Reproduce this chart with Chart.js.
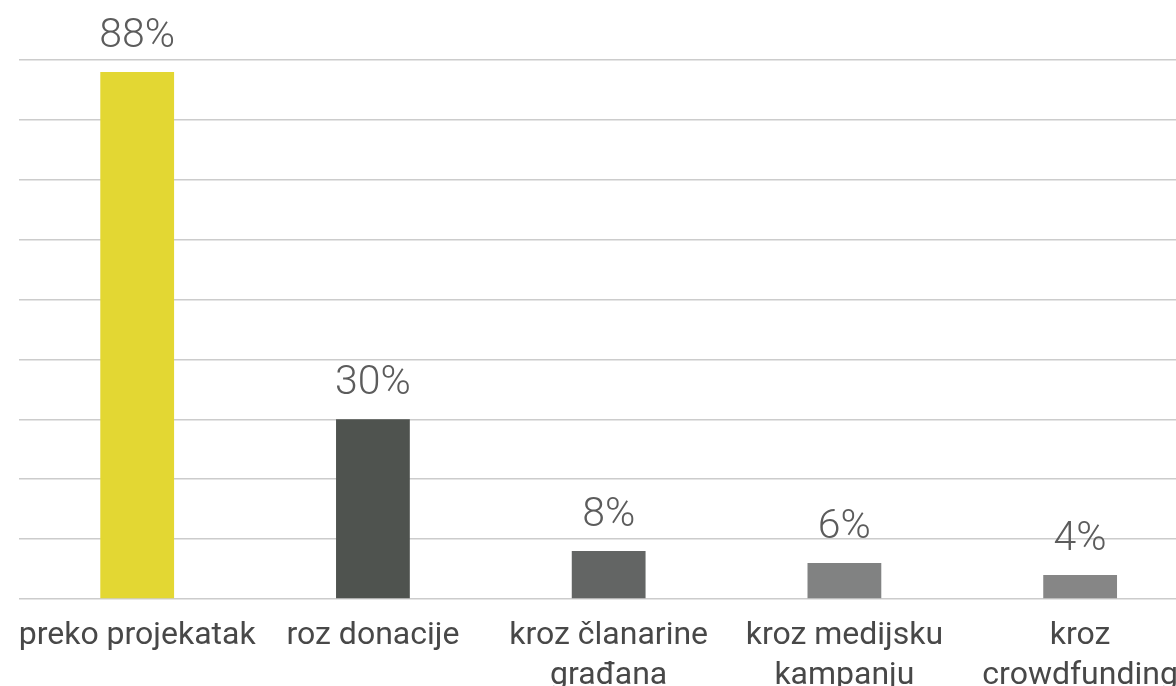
<!DOCTYPE html>
<html>
<head>
<meta charset="utf-8">
<script src="https://cdn.jsdelivr.net/npm/chart.js@4"></script>
<style>
    html, body { margin: 0; padding: 0; background: #ffffff; overflow: hidden; }
    #wrap { width: 1200px; height: 686px; }
</style>
</head>
<body>
<div id="wrap"><canvas id="chart" width="1200" height="686"></canvas></div>
<script>
let categories = [
    ["preko projekatak"],
    ["roz donacije"],
    ["kroz članarine", "građana"],
    ["kroz medijsku", "kampanju"],
    ["kroz", "crowdfunding"]
];
let values = [88, 30, 8, 6, 4];
let barColors = ["#e3d733", "#4f534f", "#636564", "#818282", "#868686"];

// percentage written above each bar
let valueLabels = {
    id: "valueLabels",
    afterDatasetsDraw(chart) {
        let ctx = chart.ctx;
        let meta = chart.getDatasetMeta(0);
        ctx.save();
        ctx.font = "300 41px Roboto";
        ctx.fillStyle = "#5c5c5c";
        ctx.textAlign = "center";
        ctx.textBaseline = "alphabetic";
        meta.data.forEach((bar, i) => {
            ctx.fillText(values[i] + "%", bar.x, bar.y - 25);
        });
        ctx.restore();
    }
};

let ctx = document.getElementById("chart").getContext("2d");
let chart = new Chart(ctx, {
    type: "bar",
    data: {
        labels: categories,
        datasets: [{
            data: values,
            backgroundColor: barColors,
            borderWidth: 0,
            barPercentage: 0.313,
            categoryPercentage: 1
        }]
    },
    options: {
        responsive: false,
        animation: false,
        layout: {
            padding: { top: 60, left: 17, right: 2, bottom: 0 }
        },
        plugins: {
            legend: { display: false },
            tooltip: { enabled: false }
        },
        scales: {
            x: {
                grid: { display: false, drawTicks: false },
                border: { display: false },
                ticks: {
                    color: "#484848",
                    padding: 17,
                    maxRotation: 0,
                    autoSkip: false,
                    font: { family: "Roboto", size: 32, lineHeight: 1.25 }
                },
                afterFit(scale) { scale.height = 87; }
            },
            y: {
                min: 0,
                max: 90,
                ticks: { display: false, stepSize: 10 },
                border: { display: false },
                grid: { color: "#cccccc", lineWidth: 1.6, drawTicks: false },
                afterFit(scale) { scale.width = 0; }
            }
        }
    },
    plugins: [valueLabels]
});
</script>
</body>
</html>
